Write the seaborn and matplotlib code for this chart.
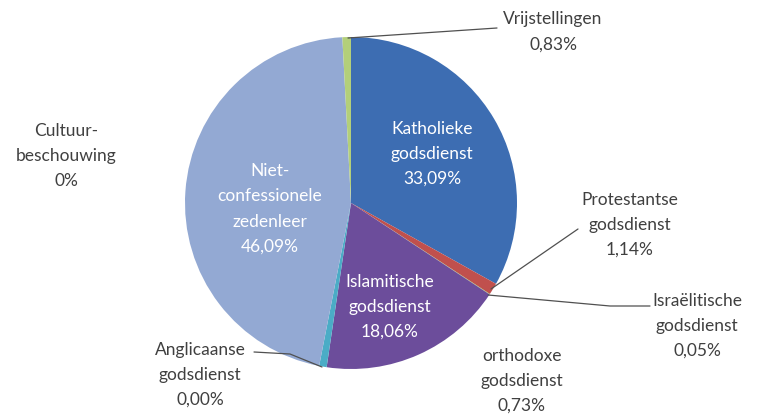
import matplotlib
matplotlib.use("Agg")
import matplotlib.pyplot as plt
import seaborn as sns
import numpy as np

categories = [
    "Katholieke\ngodsdienst",
    "Protestantse\ngodsdienst",
    "Israëlitische\ngodsdienst",
    "Islamitische\ngodsdienst",
    "orthodoxe\ngodsdienst",
    "Anglicaanse\ngodsdienst",
    "Niet-\nconfessionele\nzedenleer",
    "Cultuur-\nbeschouwing",
    "Vrijstellingen",
]
values = [33.09, 1.14, 0.05, 18.06, 0.73, 0.00, 46.09, 0.00, 0.83]
value_labels = ["33,09%", "1,14%", "0,05%", "18,06%", "0,73%", "0,00%", "46,09%", "0%", "0,83%"]

colors = ["#3d6db2", "#c0504d", "#9bbb59", "#6c4d9b", "#4bacc6", "#f79646",
          "#93a9d3", "#d99694", "#b3cf7a"]

sns.set_theme(style="white")
plt.rcParams['font.family'] = ['Lato', 'DejaVu Sans']

W, H = 758, 415
fig = plt.figure(figsize=(W / 100, H / 100), dpi=100)
ax = fig.add_axes([0, 0, 1, 1])

cx, cy, R = 351, 203, 166


def px(x, y):
    return ((x - cx) / R, (cy - y) / R)


wedges, _ = ax.pie(values, colors=colors, startangle=90, counterclock=False,
                   radius=1.0, center=(0, 0), frame=True,
                   wedgeprops=dict(linewidth=0))
ax.set_xlim(-cx / R, (W - cx) / R)
ax.set_ylim(-(H - cy) / R, cy / R)
ax.set_aspect("equal")
ax.axis("off")

# label positions (pixel centers of text blocks), leader lines
layout = {
    0: dict(pos=(432, 154), color="white", line=None),
    1: dict(pos=(630, 225), color="#404040", line=[(491, 289), (578, 229)]),
    2: dict(pos=(697, 326), color="#404040", line=[(488, 295), (610, 306), (650, 306)]),
    3: dict(pos=(390, 307), color="white", line=None),
    4: dict(pos=(522, 381), color="#404040", line=None),
    5: dict(pos=(200, 375), color="#404040", line=[(254, 352), (290, 354), (322, 367)]),
    6: dict(pos=(270, 209), color="white", line=None),
    7: dict(pos=(66, 156), color="#404040", line=None),
    8: dict(pos=(553, 32), color="#404040", line=[(348, 38), (497, 28)]),
}

for i, (cat, lab) in enumerate(zip(categories, value_labels)):
    L = layout[i]
    x, y = px(*L["pos"])
    ax.text(x, y, cat + "\n" + lab, ha="center", va="center", color=L["color"],
            fontsize=12.5, linespacing=1.7)
    if L["line"] is not None:
        pts = [px(a, b) for a, b in L["line"]]
        ax.plot([p[0] for p in pts], [p[1] for p in pts], color="#505050", lw=0.9)

fig.savefig("out.png", dpi=100, facecolor="white")
